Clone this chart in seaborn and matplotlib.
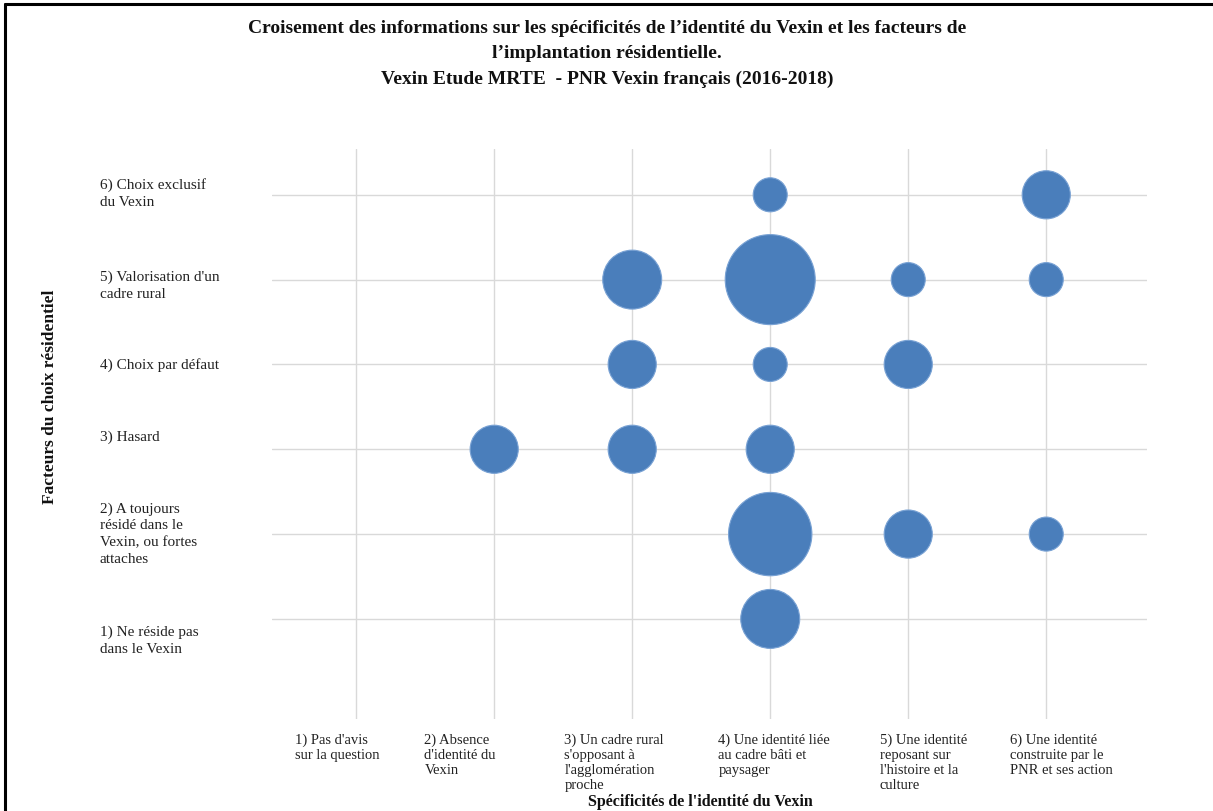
import matplotlib
matplotlib.use("Agg")
import matplotlib.pyplot as plt
from matplotlib.lines import Line2D
from matplotlib.transforms import ScaledTranslation
import seaborn as sns
import pandas as pd

# ---- data ----
x_labels = [
    "1) Pas d'avis\nsur la question",
    "2) Absence\nd'identité du\nVexin",
    "3) Un cadre rural\ns'opposant à\nl'agglomération\nproche",
    "4) Une identité liée\nau cadre bâti et\npaysager",
    "5) Une identité\nreposant sur\nl'histoire et la\nculture",
    "6) Une identité\nconstruite par le\nPNR et ses action",
]
y_labels = [
    "1) Ne réside pas\ndans le Vexin",
    "2) A toujours\nrésidé dans le\nVexin, ou fortes\nattaches",
    "3) Hasard",
    "4) Choix par défaut",
    "5) Valorisation d'un\ncadre rural",
    "6) Choix exclusif\ndu Vexin",
]
x_cat = [4, 6, 3, 4, 5, 6, 3, 4, 5, 2, 3, 4, 4, 5, 6, 4]
y_cat = [6, 6, 5, 5, 5, 5, 4, 4, 4, 3, 3, 3, 2, 2, 2, 1]
counts = [1, 2, 3, 7, 1, 1, 2, 1, 2, 2, 2, 2, 6, 2, 1, 3]

title = ("Croisement des informations sur les spécificités de l’identité du Vexin et les facteurs de\n"
         "l’implantation résidentielle.\n"
         "Vexin Etude MRTE  - PNR Vexin français (2016-2018)")
x_title = "Spécificités de l'identité du Vexin"
y_title = "Facteurs du choix résidentiel"

df = pd.DataFrame({"x": x_cat, "y": y_cat, "n": counts})

sns.set_theme(style="white")
plt.rcParams["font.family"] = ["Liberation Serif", "DejaVu Serif"]

W, H = 1213, 812
fig = plt.figure(figsize=(W / 100, H / 100), dpi=100)
fig.patch.set_facecolor("white")
ax = fig.add_axes([272 / W, 1 - 720 / H, (1147 - 272) / W, (720 - 150) / H])

sns.scatterplot(data=df, x="x", y="y", size="n", sizes=(600, 4200), size_norm=(1, 7),
                color="#4a7ebb", edgecolor="#79a2d4", linewidth=0.8, alpha=1,
                legend=False, ax=ax, zorder=3)

ax.set_xlim(0.39, 6.73)
ax.set_ylim(-0.18, 6.54)
ax.set_xticks(range(1, 7))
ax.set_yticks(range(1, 7))
ax.set_xticklabels(x_labels, fontsize=10.5, ha="center", va="top", multialignment="left",
                   linespacing=1.2)
ax.set_yticklabels(y_labels, fontsize=11, ha="left", va="center", linespacing=1.38)
ax.tick_params(axis="x", length=0, pad=10, colors="#222222")
ax.tick_params(axis="y", length=0, pad=124, colors="#222222")

# label box offsets (pixels) as placed in the original layout
x_shift = [-19, -34, -18, 4, 15, 15]
y_shift = [-21, 1, 13, 0, -5, 2]
for lab, dx in zip(ax.get_xticklabels(), x_shift):
    lab.set_transform(lab.get_transform() + ScaledTranslation(dx / 100, 0, fig.dpi_scale_trans))
for lab, dy in zip(ax.get_yticklabels(), y_shift):
    lab.set_transform(lab.get_transform() + ScaledTranslation(0, dy / 100, fig.dpi_scale_trans))

ax.grid(True, color="#d9d9d9", linewidth=1)
ax.set_axisbelow(True)
for s in ax.spines.values():
    s.set_visible(False)
ax.set_xlabel("")
ax.set_ylabel("")

fig.text(607 / W, 1 - 20 / H, title, ha="center", va="top", fontsize=14,
         fontweight="bold", linespacing=1.62, color="#111111")
fig.text(700 / W, 1 - 802 / H, x_title, ha="center", va="center", fontsize=11.5,
         fontweight="bold", color="#111111")
fig.text(50 / W, 1 - 397 / H, y_title, ha="center", va="center", rotation=90,
         fontsize=12.5, fontweight="bold", color="#111111")

# figure frame (top and left edges)
fig.add_artist(Line2D([5 / W, 1.0], [1 - 5 / H, 1 - 5 / H], color="black", linewidth=2.2,
                      transform=fig.transFigure))
fig.add_artist(Line2D([5 / W, 5 / W], [0, 1 - 5 / H], color="black", linewidth=2.2,
                      transform=fig.transFigure))

fig.savefig("out.png", dpi=100)
